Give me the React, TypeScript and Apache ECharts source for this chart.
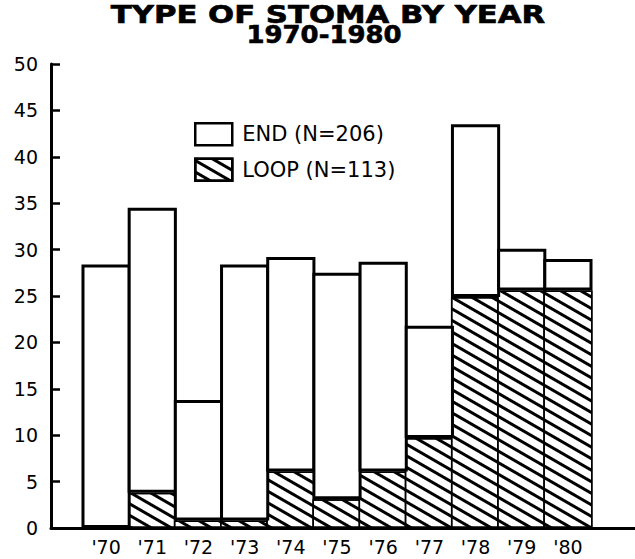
import React, { useEffect, useRef } from "react";
import * as echarts from "echarts";

const categories = ["'70", "'71", "'72", "'73", "'74", "'75", "'76", "'77", "'78", "'79", "'80"];
const loopValues = [0, 3.8, 0.8, 0.8, 6.1, 3.1, 6.1, 9.7, 24.9, 25.6, 25.6];
const endValues = [28.4, 30.7, 13.0, 27.6, 23.1, 24.4, 22.6, 12.1, 18.6, 4.5, 3.4];
const yTicks = { min: 0, max: 50, interval: 5 };
const titleLines = ["TYPE OF STOMA BY YEAR", "1970-1980"];
const legendNames = ["END (N=206)", "LOOP (N=113)"];

const FONT = "DejaVu Sans";

export default function App() {
  const ref = useRef<HTMLDivElement>(null);
  useEffect(() => {
    if (!ref.current) return;
    const chart = echarts.init(ref.current, null, { renderer: "svg" });
    const grid = { top: 64, bottom: 31 };
    chart.setOption({
      animation: false,
      backgroundColor: "#fff",
      graphic: [
        {
          type: "text",
          x: 328,
          y: 14,
          scaleX: 1.28,
          style: {
            text: titleLines[0],
            font: `bold 24px "${FONT}"`,
            fill: "#000",
            stroke: "#000",
            lineWidth: 0.6,
            textAlign: "center",
            textVerticalAlign: "middle",
          },
        },
        {
          type: "text",
          x: 324,
          y: 35,
          scaleX: 1.08,
          style: {
            text: titleLines[1],
            font: `bold 24px "${FONT}"`,
            fill: "#000",
            stroke: "#000",
            lineWidth: 0.6,
            textAlign: "center",
            textVerticalAlign: "middle",
          },
        },
      ],
      legend: {
        orient: "vertical",
        left: 194,
        top: 122,
        itemWidth: 37,
        itemHeight: 22,
        itemGap: 11,
        padding: 0,
        icon: "rect",
        data: legendNames,
        itemStyle: { borderWidth: 2.5, borderColor: "#000" },
        textStyle: { fontFamily: FONT, fontSize: 21, color: "#000", padding: [0, 0, 0, 5] },
      },
      grid: [
        { left: 51, right: 0, ...grid },
        { left: 83, right: 44, ...grid },
      ],
      xAxis: [
        {
          gridIndex: 0,
          type: "value",
          min: 0,
          max: 1,
          axisLine: { show: true, lineStyle: { color: "#000", width: 3 } },
          axisTick: { show: false },
          axisLabel: { show: false },
          splitLine: { show: false },
        },
        {
          gridIndex: 1,
          type: "category",
          data: categories,
          axisLine: { show: false },
          axisTick: { show: false },
          axisLabel: { fontFamily: FONT, fontSize: 19, color: "#000", margin: 9 },
        },
      ],
      yAxis: [
        {
          gridIndex: 0,
          type: "value",
          min: yTicks.min,
          max: yTicks.max,
          interval: yTicks.interval,
          axisLine: { show: true, lineStyle: { color: "#000", width: 3 } },
          axisTick: { show: true, inside: true, length: 9, lineStyle: { color: "#000", width: 2.5 } },
          axisLabel: { fontFamily: FONT, fontSize: 19, color: "#000", margin: 13 },
          splitLine: { show: false },
        },
        {
          gridIndex: 1,
          type: "value",
          min: yTicks.min,
          max: yTicks.max,
          show: false,
        },
      ],
      series: [
        {
          name: legendNames[1],
          type: "bar",
          stack: "a",
          xAxisIndex: 1,
          yAxisIndex: 1,
          barWidth: 49.2,
          clip: false,
          data: loopValues,
          itemStyle: {
            color: "#fff",
            borderColor: "#000",
            borderWidth: 1.5,
            decal: {
              symbol: "rect",
              symbolSize: 1,
              dashArrayX: [1, 0],
              dashArrayY: [2.5, 6.2],
              rotation: Math.PI / 6,
              color: "#000",
              backgroundColor: "#fff",
            },
          },
        },
        {
          name: legendNames[0],
          type: "bar",
          stack: "a",
          xAxisIndex: 1,
          yAxisIndex: 1,
          barWidth: 49.2,
          clip: false,
          data: endValues,
          itemStyle: { color: "#fff", borderColor: "#000", borderWidth: 3 },
        },
      ],
    });
    return () => chart.dispose();
  }, []);
  return <div ref={ref} style={{ position: "fixed", left: 0, top: 0, width: 635, height: 559 }} />;
}
